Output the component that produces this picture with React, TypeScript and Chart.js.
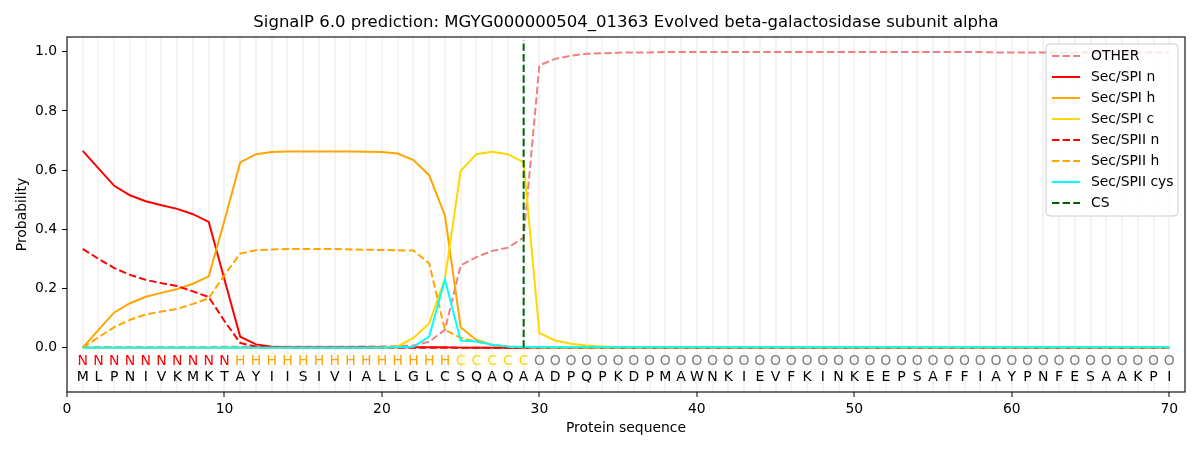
import React, { useEffect, useRef } from "react";
import Chart from "chart.js/auto";

// residue positions 1..70
const positions = Array.from({ length: 70 }, (_, i) => i + 1);

const sequence = "MLPNIVKMKTAYIISIVIALLGLCSQAQAADPQPKDPMAWNKIEVFKINKEEPSAFFIAYPNFESAAKPI".split("");
const regions = "NNNNNNNNNNHHHHHHHHHHHHHHCCCCCOOOOOOOOOOOOOOOOOOOOOOOOOOOOOOOOOOOOOOOOO".split("");

const otherVals = [
  0.002, 0.002, 0.002, 0.002, 0.002, 0.002, 0.002, 0.002, 0.002, 0.003,
  0.003, 0.003, 0.003, 0.003, 0.003, 0.003, 0.003, 0.003, 0.004, 0.004,
  0.005, 0.007, 0.02, 0.06, 0.278, 0.306, 0.327, 0.338, 0.372, 0.954,
  0.976, 0.987, 0.993, 0.995, 0.997, 0.998, 0.998, 0.999, 0.999, 0.999,
  0.999, 0.999, 0.999, 0.999, 0.999, 0.999, 0.999, 0.999, 0.999, 0.999,
  0.999, 0.999, 0.999, 0.999, 0.999, 0.999, 0.999, 0.999, 0.998, 0.998,
  0.998, 0.998, 0.998, 0.998, 0.998, 0.998, 0.998, 0.998, 0.998, 0.998,
];
const spiN = [
  0.665, 0.606, 0.547, 0.515, 0.495, 0.481, 0.469, 0.451, 0.425, 0.23,
  0.037, 0.011, 0.003, 0.001, 0.001, 0.001, 0.001, 0.001, 0.001, 0.001,
  0.001, 0.001, 0.001, 0.001, 0, 0, 0, 0, 0, 0,
  0, 0, 0, 0, 0, 0, 0, 0, 0, 0,
  0, 0, 0, 0, 0, 0, 0, 0, 0, 0,
  0, 0, 0, 0, 0, 0, 0, 0, 0, 0,
  0, 0, 0, 0, 0, 0, 0, 0, 0, 0,
];
const spiH = [
  0, 0.06, 0.119, 0.15, 0.172, 0.185, 0.198, 0.216, 0.241, 0.43,
  0.626, 0.654, 0.661, 0.663, 0.663, 0.663, 0.663, 0.663, 0.662, 0.661,
  0.656, 0.634, 0.583, 0.447, 0.069, 0.026, 0.01, 0.003, 0.001, 0,
  0, 0, 0, 0, 0, 0, 0, 0, 0, 0,
  0, 0, 0, 0, 0, 0, 0, 0, 0, 0,
  0, 0, 0, 0, 0, 0, 0, 0, 0, 0,
  0, 0, 0, 0, 0, 0, 0, 0, 0, 0,
];
const spiC = [
  0, 0, 0, 0, 0, 0, 0, 0, 0, 0,
  0, 0, 0, 0, 0, 0, 0, 0, 0, 0.001,
  0.004, 0.033, 0.082, 0.232, 0.597, 0.654, 0.662, 0.654, 0.626, 0.049,
  0.024, 0.013, 0.007, 0.004, 0.002, 0.001, 0.001, 0.001, 0.001, 0.001,
  0.001, 0.001, 0.001, 0.001, 0.001, 0.001, 0.001, 0.001, 0.001, 0.001,
  0.001, 0.001, 0.001, 0.001, 0.001, 0.001, 0.001, 0.001, 0.001, 0.001,
  0.001, 0.001, 0.001, 0.001, 0.001, 0.001, 0.001, 0.001, 0.001, 0.001,
];
const spiiN = [
  0.334, 0.3, 0.269, 0.246, 0.229, 0.218, 0.208, 0.19, 0.171, 0.09,
  0.016, 0.003, 0.001, 0, 0, 0, 0, 0, 0, 0,
  0, 0, 0, 0, 0, 0, 0, 0, 0, 0,
  0, 0, 0, 0, 0, 0, 0, 0, 0, 0,
  0, 0, 0, 0, 0, 0, 0, 0, 0, 0,
  0, 0, 0, 0, 0, 0, 0, 0, 0, 0,
  0, 0, 0, 0, 0, 0, 0, 0, 0, 0,
];
const spiiH = [
  0, 0.035, 0.069, 0.094, 0.112, 0.122, 0.131, 0.148, 0.167, 0.245,
  0.318, 0.329, 0.332, 0.333, 0.333, 0.333, 0.333, 0.332, 0.331, 0.33,
  0.329, 0.328, 0.285, 0.06, 0.033, 0.02, 0.01, 0.003, 0.001, 0,
  0, 0, 0, 0, 0, 0, 0, 0, 0, 0,
  0, 0, 0, 0, 0, 0, 0, 0, 0, 0,
  0, 0, 0, 0, 0, 0, 0, 0, 0, 0,
  0, 0, 0, 0, 0, 0, 0, 0, 0, 0,
];
const spiiCys = [
  0, 0, 0, 0, 0, 0, 0, 0, 0, 0,
  0, 0, 0, 0, 0, 0, 0, 0, 0, 0,
  0.001, 0.003, 0.037, 0.23, 0.024, 0.021, 0.01, 0.004, 0.002, 0.001,
  0.001, 0.001, 0.001, 0.001, 0.001, 0.001, 0.001, 0.001, 0.001, 0.001,
  0.001, 0.001, 0.001, 0.001, 0.001, 0.001, 0.001, 0.001, 0.001, 0.001,
  0.001, 0.001, 0.001, 0.001, 0.001, 0.001, 0.001, 0.001, 0.001, 0.001,
  0.001, 0.001, 0.001, 0.001, 0.001, 0.001, 0.001, 0.001, 0.001, 0.001,
];
const csPos = 29;

const yTicks = [0, 0.2, 0.4, 0.6, 0.8, 1.0];
const xTickLabels = [0, 10, 20, 30, 40, 50, 60, 70];

const regionColors: any = { N: "#ff0000", H: "#ffa500", C: "#ffd700", O: "#808080" };
const FONT = "DejaVu Sans";
const DASH = [7.4, 3.2];

const toPoints = (vals: number[]) => positions.map((p, i) => ({ x: p, y: vals[i] }));

const overlay = {
  id: "overlay",
  afterDraw(chart: any) {
    const { ctx, chartArea, scales } = chart;
    const xs = scales.x;
    const ys = scales.y;
    ctx.save();

    // frame
    ctx.strokeStyle = "#000";
    ctx.lineWidth = 1.1;
    ctx.strokeRect(chartArea.left, chartArea.top, chartArea.right - chartArea.left, chartArea.bottom - chartArea.top);

    // residue letters
    ctx.font = `14px "${FONT}"`;
    ctx.textAlign = "center";
    ctx.textBaseline = "middle";
    positions.forEach((p, i) => {
      const px = xs.getPixelForValue(p);
      ctx.fillStyle = regionColors[regions[i]];
      ctx.fillText(regions[i], px, ys.getPixelForValue(-0.047));
      ctx.fillStyle = "#000";
      ctx.fillText(sequence[i], px, ys.getPixelForValue(-0.1));
    });

    // title + axis titles
    const cx = (chartArea.left + chartArea.right) / 2;
    ctx.fillStyle = "#000";
    ctx.font = `16.5px "${FONT}"`;
    ctx.fillText("SignalP 6.0 prediction: MGYG000000504_01363 Evolved beta-galactosidase subunit alpha", cx, 23);
    ctx.font = `13.9px "${FONT}"`;
    ctx.fillText("Protein sequence", cx, 428);
    ctx.save();
    ctx.translate(22, (chartArea.top + chartArea.bottom) / 2);
    ctx.rotate(-Math.PI / 2);
    ctx.fillText("Probability", 0, 0);
    ctx.restore();

    // legend
    const lx = 1046, ly = 44, lw = 132, lh = 172;
    ctx.beginPath();
    ctx.roundRect(lx, ly, lw, lh, 4);
    ctx.fillStyle = "rgba(255,255,255,0.8)";
    ctx.fill();
    ctx.strokeStyle = "#cccccc";
    ctx.lineWidth = 1;
    ctx.stroke();
    ctx.textAlign = "left";
    chart.data.datasets.forEach((ds: any, i: number) => {
      const yy = 56 + i * 21;
      ctx.beginPath();
      ctx.strokeStyle = ds.borderColor;
      ctx.lineWidth = 2;
      ctx.setLineDash(ds.borderDash || []);
      ctx.moveTo(1052, yy);
      ctx.lineTo(1080, yy);
      ctx.stroke();
      ctx.setLineDash([]);
      ctx.fillStyle = "#000";
      ctx.fillText(ds.label, 1091, yy);
    });
    ctx.restore();
  },
};

const App = () => {
  const canvasRef: any = useRef(null);
  const chartRef: any = useRef(null);

  useEffect(() => {
    document.body.style.margin = "0";
    Chart.defaults.font.family = FONT;
    const ctx = canvasRef.current.getContext("2d");

    const series = [
      { label: "OTHER", vals: otherVals, color: "#f08080", dash: DASH },
      { label: "Sec/SPI n", vals: spiN, color: "#ff0000", dash: [] },
      { label: "Sec/SPI h", vals: spiH, color: "#ffa500", dash: [] },
      { label: "Sec/SPI c", vals: spiC, color: "#ffd700", dash: [] },
      { label: "Sec/SPII n", vals: spiiN, color: "#ff0000", dash: DASH },
      { label: "Sec/SPII h", vals: spiiH, color: "#ffa500", dash: DASH },
      { label: "Sec/SPII cys", vals: spiiCys, color: "#00ffff", dash: [] },
    ];

    const datasets: any[] = series.map((s, i) => ({
      label: s.label,
      data: toPoints(s.vals),
      borderColor: s.color,
      borderDash: s.dash,
      borderWidth: 2,
      pointRadius: 0,
      fill: false,
      tension: 0,
      order: 20 - i,
    }));
    datasets.push({
      label: "CS",
      data: [
        { x: csPos, y: 0 },
        { x: csPos, y: 1.04 },
      ],
      borderColor: "#006400",
      borderDash: DASH,
      borderWidth: 2,
      pointRadius: 0,
      fill: false,
      order: 1,
    });

    chartRef.current = new Chart(ctx, {
      type: "line",
      data: { datasets },
      options: {
        animation: false,
        responsive: true,
        maintainAspectRatio: false,
        layout: { padding: { top: 37, right: 15, left: 0, bottom: 0 } },
        plugins: { legend: { display: false }, title: { display: false }, tooltip: { enabled: false } },
        scales: {
          x: {
            type: "linear",
            min: 0,
            max: 71,
            afterBuildTicks: (s: any) => {
              s.ticks = Array.from({ length: 72 }, (_, i) => ({ value: i }));
            },
            afterFit: (s: any) => {
              s.height = 58;
            },
            ticks: {
              autoSkip: false,
              maxRotation: 0,
              padding: 4,
              color: "#000",
              font: { size: 13.9 },
              callback: (v: any) => (xTickLabels.includes(v) ? String(v) : ""),
            },
            grid: {
              lineWidth: 2,
              color: (c: any) => (c.tick && c.tick.value >= 1 && c.tick.value <= 70 ? "#f3f3f3" : "rgba(0,0,0,0)"),
              tickColor: (c: any) => (c.tick && xTickLabels.includes(c.tick.value) ? "#000" : "rgba(0,0,0,0)"),
              tickLength: 5,
              tickWidth: 1,
            },
            border: { display: false },
          },
          y: {
            type: "linear",
            min: -0.15,
            max: 1.05,
            afterBuildTicks: (s: any) => {
              s.ticks = yTicks.map((v) => ({ value: v }));
            },
            afterFit: (s: any) => {
              s.width = 67;
            },
            ticks: {
              padding: 5,
              color: "#000",
              font: { size: 13.9 },
              callback: (v: any) => Number(v).toFixed(1),
            },
            grid: {
              drawOnChartArea: false,
              tickColor: "#000",
              tickLength: 5,
              tickWidth: 1,
            },
            border: { display: false },
          },
        },
      },
      plugins: [overlay],
    });

    return () => {
      if (chartRef.current) {
        chartRef.current.destroy();
      }
    };
  }, []);

  return (
    <div style={{ position: "relative", width: "1200px", height: "450px", background: "#fff" }}>
      <canvas ref={canvasRef}></canvas>
    </div>
  );
};

export default App;
